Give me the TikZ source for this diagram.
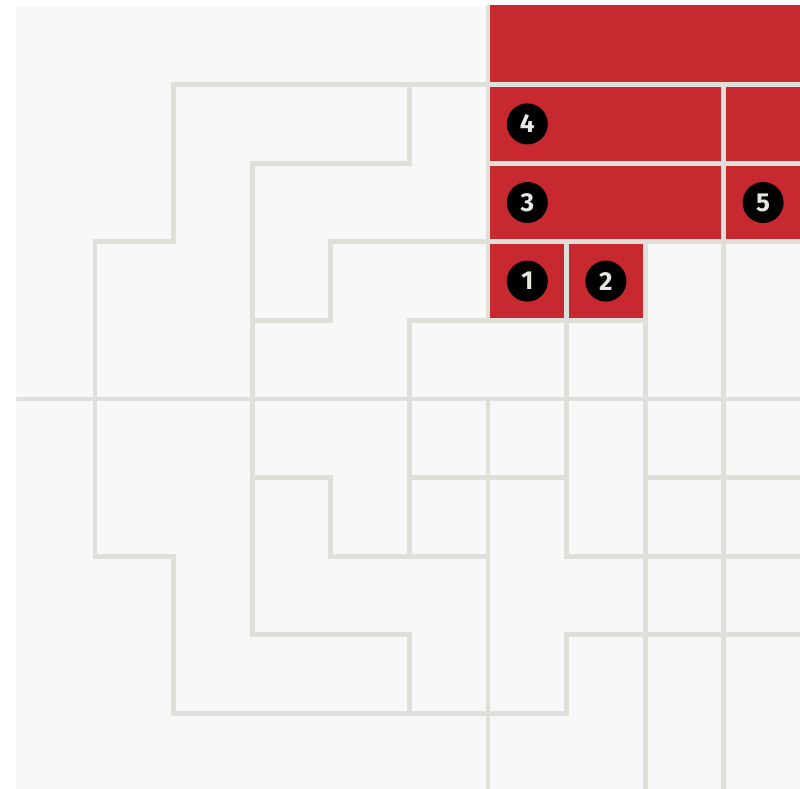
\documentclass[tikz,border=0pt]{standalone}
\usepackage{fontspec}
\setsansfont{Fira Sans}
\usepackage{tikz}
\usetikzlibrary{positioning}
\definecolor{tilebg}{RGB}{248,248,248}
\definecolor{tileline}{RGB}{224,224,218}
\definecolor{tilered}{RGB}{200,40,47}
\definecolor{numfg}{RGB}{232,232,226}

\begin{document}
\begin{tikzpicture}[x=.786cm,y=-.786cm,font=\sffamily\bfseries\fontsize{7.4}{8}\selectfont,
    seam/.style={draw=tileline,line width=1.35pt,line cap=rect},
    badge/.style={circle,fill=black,text=numfg,minimum size=.41cm,inner sep=0pt}]
    \fill[white] (-.2087,-.0763) rectangle (9.9695,9.9618);
    \useasboundingbox (-.2087,-.0763) rectangle (9.9695,9.9618);
    \fill[tilebg] (0,0) rectangle (9.9695,9.9618);
    \begin{scope}
      \clip (0,0) rectangle (9.9695,9.9618);
      % red tiles
      \fill[tilered] (6,-.2) rectangle (10.2,3);
      \fill[tilered] (6,3) rectangle (8,4);
      % seams between the tiles
      \draw[seam] (1,3)--(2,3)--(2,1)--(10.2,1);
      \draw[seam] (1,3)--(1,7)--(2,7)--(2,9)--(7,9)--(7,8)--(10.2,8);
      \draw[seam] (5,1)--(5,2)--(3,2)--(3,8)--(5,8)--(5,9);
      \draw[seam] (3,4)--(4,4)--(4,3)--(10.2,3);
      \draw[seam] (6,-.2)--(6,4);
      \draw[seam] (5,7)--(5,4)--(8,4);
      \draw[seam] (8,3)--(8,10.2);
      \draw[seam] (-.2,5)--(10.2,5);
      \draw[seam] (3,6)--(4,6)--(4,7)--(6,7);
      \draw[seam] (6,5)--(6,10.2);
      \draw[seam] (5,6)--(7,6);
      \draw[seam] (7,3)--(7,7)--(10.2,7);
      \draw[seam] (8,6)--(10.2,6);
      \draw[seam] (9,1)--(9,10.2);
      \draw[seam] (6,2)--(10.2,2);
    \end{scope}
    % numbered pieces
    \node[badge] (b1) at (6.5,3.5) {1};
    \node[badge] (b2) at (7.5,3.5) {2};
    \node[badge] (b3) at (6.5,2.5) {3};
    \node[badge] (b4) at (6.5,1.5) {4};
    \node[badge] (b5) at (9.5,2.5) {5};
  \end{tikzpicture}
\end{document}
